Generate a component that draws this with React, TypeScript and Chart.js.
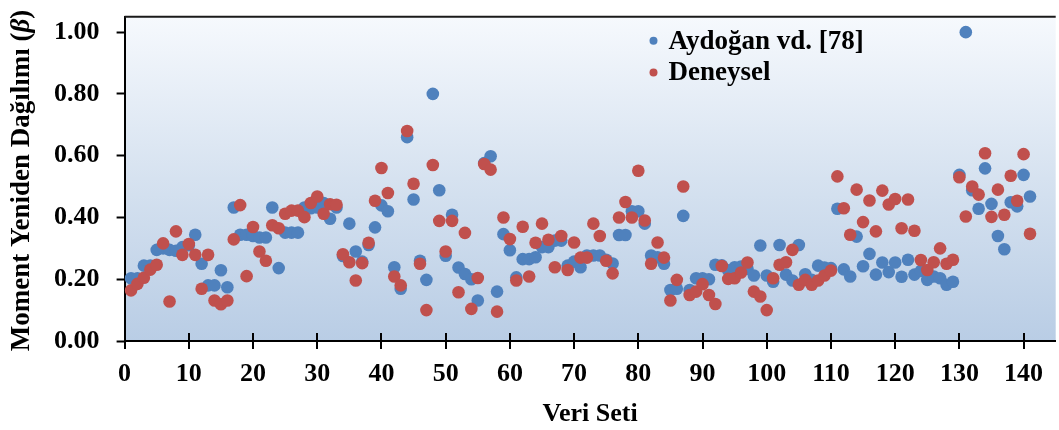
import React, { useEffect, useRef } from 'react';
import { Chart, registerables } from 'chart.js';

Chart.register(...registerables);

const seriesNames = ['Aydoğan vd. [78]', 'Deneysel'];

const aydogan = [
  0.203, 0.203, 0.244, 0.244, 0.295, 0.300, 0.295, 0.292, 0.304, 0.310,
  0.344, 0.250, 0.180, 0.180, 0.229, 0.174, 0.432, 0.344, 0.344, 0.340,
  0.335, 0.335, 0.432, 0.236, 0.351, 0.351, 0.351, 0.432, 0.430, 0.432,
  0.447, 0.396, 0.432, 0.275, 0.380, 0.290, 0.257, 0.311, 0.368, 0.439,
  0.420, 0.239, 0.169, 0.660, 0.458, 0.260, 0.198, 0.800, 0.488, 0.276,
  0.409, 0.238, 0.217, 0.200, 0.131, 0.576, 0.598, 0.160, 0.346, 0.294,
  0.206, 0.265, 0.265, 0.271, 0.304, 0.304, 0.325, 0.325, 0.244, 0.257,
  0.239, 0.277, 0.277, 0.277, 0.263, 0.251, 0.343, 0.343, 0.420, 0.420,
  0.380, 0.277, 0.271, 0.250, 0.165, 0.169, 0.405, 0.165, 0.203, 0.203,
  0.200, 0.247, 0.245, 0.229, 0.239, 0.241, 0.234, 0.212, 0.309, 0.212,
  0.192, 0.311, 0.215, 0.196, 0.311, 0.216, 0.198, 0.244, 0.238, 0.236,
  0.428, 0.232, 0.209, 0.338, 0.242, 0.282, 0.215, 0.254, 0.223, 0.254,
  0.208, 0.263, 0.215, 0.227, 0.198, 0.209, 0.203, 0.182, 0.192, 0.538,
  1.000, 0.488, 0.428, 0.559, 0.444, 0.340, 0.297, 0.449, 0.436, 0.538,
  0.468,
];

const deneysel = [
  0.164, 0.185, 0.205, 0.231, 0.247, 0.316, 0.128, 0.355, 0.279, 0.314,
  0.279, 0.169, 0.279, 0.131, 0.119, 0.131, 0.329, 0.440, 0.210, 0.369,
  0.290, 0.260, 0.375, 0.365, 0.412, 0.422, 0.422, 0.401, 0.447, 0.468,
  0.412, 0.443, 0.441, 0.281, 0.255, 0.196, 0.252, 0.318, 0.454, 0.560,
  0.479, 0.209, 0.180, 0.680, 0.509, 0.250, 0.100, 0.570, 0.389, 0.290,
  0.389, 0.158, 0.350, 0.104, 0.204, 0.573, 0.555, 0.095, 0.400, 0.330,
  0.196, 0.370, 0.209, 0.318, 0.380, 0.328, 0.239, 0.340, 0.230, 0.319,
  0.270, 0.270, 0.380, 0.340, 0.260, 0.219, 0.400, 0.450, 0.400, 0.551,
  0.390, 0.250, 0.319, 0.270, 0.131, 0.198, 0.500, 0.149, 0.160, 0.184,
  0.149, 0.120, 0.243, 0.201, 0.203, 0.222, 0.254, 0.160, 0.144, 0.100,
  0.203, 0.247, 0.255, 0.295, 0.182, 0.198, 0.182, 0.196, 0.212, 0.228,
  0.533, 0.430, 0.344, 0.490, 0.385, 0.455, 0.355, 0.487, 0.442, 0.460,
  0.365, 0.458, 0.357, 0.262, 0.230, 0.255, 0.300, 0.250, 0.263, 0.530,
  0.403, 0.500, 0.474, 0.608, 0.402, 0.490, 0.409, 0.535, 0.454, 0.605,
  0.347,
];

const xTicks = [0, 10, 20, 30, 40, 50, 60, 70, 80, 90, 100, 110, 120, 130, 140];
const yTicks = [0, 0.2, 0.4, 0.6, 0.8, 1.0];
const xMin = 0;
const xMax = 145;
const yMin = 0;
const yMax = 1.05;

const xTitle = 'Veri Seti';
const yTitleMain = 'Moment Yeniden Dağılımı (';
const yTitleSymbol = 'β';
const yTitleEnd = ')';

const colors = ['#4F81BD', '#C0504D'];
const SERIF = '"Liberation Serif", "DejaVu Serif", serif';

const W = 1062;
const H = 430;

export default function App() {
  const ref = useRef<HTMLCanvasElement | null>(null);

  useEffect(() => {
    const canvas = ref.current;
    if (!canvas) return;

    const decor = {
      id: 'decor',
      beforeDraw(chart: any) {
        const { ctx, chartArea } = chart;
        const { left, top, right, bottom } = chartArea;
        const g = ctx.createLinearGradient(0, top, 0, bottom);
        g.addColorStop(0, '#F6F9FD');
        g.addColorStop(0.5, '#D6E2F0');
        g.addColorStop(1, '#B9CDE5');
        ctx.save();
        ctx.fillStyle = g;
        ctx.fillRect(left, top, right - left, bottom - top);
        ctx.restore();
      },
      afterDraw(chart: any) {
        const { ctx, chartArea, scales } = chart;
        const { left, top, right, bottom } = chartArea;
        ctx.save();
        // top frame line
        ctx.strokeStyle = '#1a1a1a';
        ctx.lineWidth = 2;
        ctx.beginPath();
        ctx.moveTo(left, top);
        ctx.lineTo(right, top);
        ctx.stroke();

        // x tick marks crossing the axis
        ctx.strokeStyle = '#000';
        ctx.lineWidth = 2;
        xTicks.forEach((v) => {
          const px = Math.round(scales.x.getPixelForValue(v));
          ctx.beginPath();
          ctx.moveTo(px, bottom - 8);
          ctx.lineTo(px, bottom + 8);
          ctx.stroke();
        });

        // legend inside plot
        const legendX = 653.5;
        const legendYs = [40.7, 72.5];
        ctx.font = `bold 27px ${SERIF}`;
        ctx.textBaseline = 'middle';
        ctx.textAlign = 'left';
        seriesNames.forEach((name, i) => {
          ctx.fillStyle = colors[i];
          ctx.beginPath();
          ctx.arc(legendX, legendYs[i], 4, 0, Math.PI * 2);
          ctx.fill();
          ctx.fillStyle = '#000';
          ctx.fillText(name, legendX + 15, legendYs[i] + 1);
        });

        // y axis title with italic beta
        const fMain = `bold 27px ${SERIF}`;
        const fSym = `italic bold 27px ${SERIF}`;
        ctx.font = fMain;
        const w1 = ctx.measureText(yTitleMain).width;
        const w3 = ctx.measureText(yTitleEnd).width;
        ctx.font = fSym;
        const w2 = ctx.measureText(yTitleSymbol).width;
        const total = w1 + w2 + w3;
        ctx.translate(28.5, 180.5);
        ctx.rotate(-Math.PI / 2);
        ctx.fillStyle = '#000';
        ctx.textBaseline = 'alphabetic';
        let x = -total / 2;
        ctx.font = fMain;
        ctx.fillText(yTitleMain, x, 0);
        x += w1;
        ctx.font = fSym;
        ctx.fillText(yTitleSymbol, x, 0);
        x += w2;
        ctx.font = fMain;
        ctx.fillText(yTitleEnd, x, 0);
        ctx.restore();
      },
    };

    const chart = new Chart(canvas, {
      type: 'scatter',
      data: {
        datasets: [
          {
            label: seriesNames[0],
            data: aydogan.map((v, i) => ({ x: i + 1, y: v })),
            backgroundColor: colors[0],
            borderWidth: 0,
            pointRadius: 6.3,
            pointHoverRadius: 6.3,
            order: 2,
          },
          {
            label: seriesNames[1],
            data: deneysel.map((v, i) => ({ x: i + 1, y: v })),
            backgroundColor: colors[1],
            borderWidth: 0,
            pointRadius: 6.3,
            pointHoverRadius: 6.3,
            order: 1,
          },
        ],
      },
      options: {
        responsive: false,
        animation: false,
        events: [],
        layout: { padding: { top: 16.7, left: 0, right: 0, bottom: 0 } },
        plugins: {
          legend: { display: false },
          tooltip: { enabled: false },
        },
        scales: {
          x: {
            type: 'linear',
            min: xMin,
            max: xMax,
            afterBuildTicks: (s: any) => {
              s.ticks = xTicks.map((v) => ({ value: v }));
            },
            afterFit: (s: any) => {
              s.height = 89;
              s.paddingLeft = 0;
              s.paddingRight = 0;
            },
            ticks: {
              font: { family: SERIF, size: 26, weight: 'bold' },
              color: '#000',
              padding: 18,
              maxRotation: 0,
              autoSkip: false,
            },
            grid: {
              display: true,
              drawOnChartArea: false,
              drawTicks: false,
            },
            border: { display: true, color: '#000', width: 2 },
            title: {
              display: true,
              text: xTitle,
              color: '#000',
              font: { family: SERIF, size: 26, weight: 'bold' },
              padding: { top: 0, bottom: 0 },
            },
          },
          y: {
            type: 'linear',
            min: yMin,
            max: yMax,
            afterBuildTicks: (s: any) => {
              s.ticks = yTicks.map((v) => ({ value: v }));
            },
            afterFit: (s: any) => {
              s.width = 124.6;
              s.paddingTop = 0;
              s.paddingBottom = 0;
            },
            ticks: {
              font: { family: SERIF, size: 26, weight: 'bold' },
              color: '#000',
              padding: 17,
              callback: (v: any) => Number(v).toFixed(2),
            },
            grid: {
              display: true,
              drawOnChartArea: false,
              drawTicks: true,
              tickLength: 8,
              tickWidth: 2,
              tickColor: '#000',
            },
            border: { display: true, color: '#000', width: 2 },
            title: { display: false },
          },
        },
      },
      plugins: [decor],
    });

    return () => {
      chart.destroy();
    };
  }, []);

  return (
    <div
      style={{
        position: 'absolute',
        left: 0,
        top: 0,
        width: 1059,
        height: 430,
        overflow: 'hidden',
        background: '#fff',
      }}
    >
      <canvas ref={ref} width={W} height={H} style={{ display: 'block' }} />
    </div>
  );
}
